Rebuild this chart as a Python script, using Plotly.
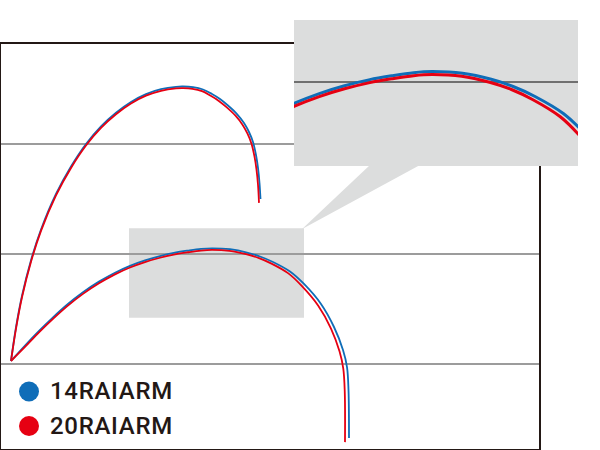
import plotly.graph_objects as go

# ---- data (arbitrary units) ----
high_14_x = [0, 1.0, 2.2, 4.0, 6.0, 9.0, 12.0, 15.0, 18.0, 21.0, 24.0, 27.0, 30.0, 33.0, 34.4,
             36.4, 38.4, 40.2, 41.8, 43.4, 45.2, 46.6, 47.6, 48.4, 49.0, 49.4, 49.7, 49.9]
high_14_y = [0.55, 6.68, 12.41, 18.87, 24.46, 30.93, 35.91, 40.0, 43.2, 45.69, 47.65, 49.07, 49.96, 50.4, 50.45,
             50.33, 49.91, 49.09, 48.18, 47.0, 45.45, 43.82, 42.18, 40.36, 38.0, 35.64, 32.91, 30.0]
high_20_x = [0, 1.0, 2.2, 4.0, 6.0, 9.0, 12.0, 15.0, 18.0, 21.0, 24.0, 27.0, 30.0, 33.0, 34.4,
             36.3, 38.2, 39.9, 41.5, 43.1, 44.9, 46.3, 47.3, 48.1, 48.7, 49.1, 49.4, 49.6]
high_20_y = [0.55, 6.45, 12.15, 18.6, 24.2, 30.65, 35.65, 39.72, 42.92, 45.4, 47.36, 48.78, 49.67, 50.1, 50.15,
             50.03, 49.6, 48.78, 47.88, 46.7, 45.15, 43.52, 41.88, 40.06, 37.7, 35.34, 32.6, 29.3]

low_14_x = [0, 2.8, 5.6, 8.4, 11.2, 14.4, 17.6, 20.8, 23.8, 26.8, 29.8, 32.8, 35.4, 38.0, 40.2,
            43.8, 47.2, 49.8, 52.4, 55.8, 58.6, 62.0, 64.6, 66.4, 67.2, 67.5, 67.6]
low_14_y = [0.55, 3.36, 6.02, 8.49, 10.78, 13.05, 14.98, 16.6, 17.85, 18.84, 19.62, 20.24, 20.62, 20.93, 21.04,
            20.87, 20.27, 19.55, 18.55, 16.82, 14.55, 10.91, 6.73, 2.55, -0.55, -4.73, -13.45]
low_20_x = [0, 2.8, 5.6, 8.4, 11.2, 14.4, 17.6, 20.8, 23.8, 26.8, 29.8, 32.8, 35.4, 38.0, 40.2,
            43.7, 47.0, 49.6, 52.1, 55.4, 58.1, 61.45, 64.0, 65.7, 66.45, 66.75, 66.8]
low_20_y = [0.55, 3.1, 5.75, 8.2, 10.48, 12.75, 14.68, 16.3, 17.55, 18.54, 19.32, 19.94, 20.32, 20.63, 20.74,
            20.57, 19.97, 19.25, 18.25, 16.52, 14.25, 10.6, 6.45, 2.3, -0.8, -5.0, -14.2]

series_names = ["14RAIARM", "20RAIARM"]
grid_values = [0, 20, 40]
inset_grid_values = [20]

BLUE = "#0f6db8"
RED = "#e60012"
GRAY = "#dcdddd"
DARK = "#231815"

W, H = 600, 450
ML, MR, MT, MB = 1, 22, 20, 1
PW, PH = W - ML - MR, H - MT - MB

INSET_X = [23.8, 57.5]
INSET_Y = [11.6, 26.2]


def px(xp):
    return (xp - ML) / PW


def py(yp):
    return (H - MB - yp) / PH


fig = go.Figure()
for xs, ys, name, color in [
    (high_14_x, high_14_y, series_names[0], BLUE),
    (high_20_x, high_20_y, series_names[1], RED),
    (low_14_x, low_14_y, series_names[0], BLUE),
    (low_20_x, low_20_y, series_names[1], RED),
]:
    fig.add_trace(go.Scatter(x=xs, y=ys, mode="lines", name=name, showlegend=False,
                             line=dict(color=color, width=1.8, shape="spline", smoothing=1.0),
                             xaxis="x", yaxis="y", hoverinfo="skip"))

# inset traces (zoom of lower curves)
for xs, ys, name, color in [
    (low_14_x, low_14_y, series_names[0], BLUE),
    (low_20_x, low_20_y, series_names[1], RED),
]:
    fig.add_trace(go.Scatter(x=xs, y=ys, mode="lines", name=name, showlegend=False,
                             line=dict(color=color, width=3, shape="spline", smoothing=1.0),
                             xaxis="x2", yaxis="y2", hoverinfo="skip"))

fig.update_layout(
    width=W, height=H,
    margin=dict(l=ML, r=MR, t=MT, b=MB),
    paper_bgcolor="white", plot_bgcolor="white",
    xaxis=dict(domain=[0, px(539)], range=[-2, 105.6], showgrid=False, zeroline=False,
               showticklabels=False, ticks="", showline=True, mirror=True,
               linecolor=DARK, linewidth=1.5),
    yaxis=dict(domain=[0, py(44)], range=[-15.45, 58.18], tickvals=grid_values,
               showgrid=True, gridcolor="#9c9c9c", gridwidth=1.5, zeroline=False,
               showticklabels=False, ticks="", showline=True, mirror=True,
               linecolor=DARK, linewidth=1.5),
    xaxis2=dict(domain=[px(294), 1], range=INSET_X, showgrid=False, zeroline=False,
                showticklabels=False, ticks="", showline=False, anchor="y2"),
    yaxis2=dict(domain=[py(166), 1], range=INSET_Y, tickvals=inset_grid_values,
                showgrid=True, gridcolor="#707070", gridwidth=1.5, zeroline=False,
                showticklabels=False, ticks="", showline=False, anchor="x2"),
)

shapes = [
    dict(type="rect", xref="x", yref="y", x0=23.6, x1=58.6, y0=8.4, y1=24.7,
         fillcolor=GRAY, line=dict(width=0), layer="below"),
    dict(type="rect", xref="x2", yref="y2", x0=INSET_X[0], x1=INSET_X[1], y0=INSET_Y[0], y1=INSET_Y[1],
         fillcolor=GRAY, line=dict(width=0), layer="below"),
    dict(type="path", xref="paper", yref="paper",
         path=f"M {px(300)},{py(231)} L {px(370)},{py(165)} L {px(420)},{py(165)} L {px(304)},{py(228)} Z",
         fillcolor=GRAY, line=dict(width=0), layer="above"),
    dict(type="circle", xref="paper", yref="paper", x0=px(19), x1=px(39), y0=py(401.5), y1=py(381.5),
         fillcolor=BLUE, line=dict(width=0)),
    dict(type="circle", xref="paper", yref="paper", x0=px(19), x1=px(39), y0=py(436), y1=py(416),
         fillcolor=RED, line=dict(width=0)),
]
fig.update_layout(shapes=shapes)

for name, yc in zip(series_names, [391.5, 426]):
    fig.add_annotation(x=px(48), y=py(yc), xref="paper", yref="paper",
                       text=f"<span style='letter-spacing:0.7px'>{name}</span>",
                       showarrow=False, xanchor="left", yanchor="middle",
                       font=dict(family="Roboto, Liberation Sans, Arial, sans-serif", size=24,
                                 color=DARK, weight=500))

fig.write_html("out.html", config={"displayModeBar": False},
               post_script="document.body.style.margin='0px';document.body.style.padding='0px';")
